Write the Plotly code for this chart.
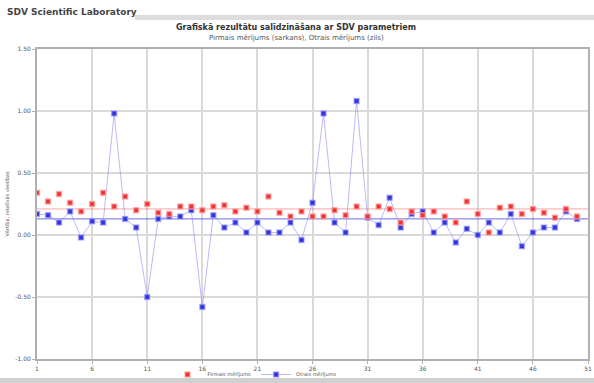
import plotly.graph_objects as go

# Measurement index and the two measured series
x_idx = list(range(1, 51))
red_vals = [0.34, 0.27, 0.33, 0.26, 0.19, 0.25, 0.34, 0.23, 0.31, 0.20,
            0.25, 0.18, 0.17, 0.23, 0.23, 0.20, 0.23, 0.24, 0.19, 0.22,
            0.19, 0.31, 0.18, 0.15, 0.19, 0.15, 0.15, 0.20, 0.16, 0.23,
            0.15, 0.23, 0.21, 0.10, 0.19, 0.16, 0.19, 0.15, 0.10, 0.27,
            0.17, 0.02, 0.22, 0.23, 0.17, 0.21, 0.18, 0.14, 0.21, 0.15]
blue_vals = [0.17, 0.16, 0.10, 0.19, -0.02, 0.11, 0.10, 0.98, 0.13, 0.06,
             -0.50, 0.13, 0.15, 0.15, 0.20, -0.58, 0.16, 0.06, 0.10, 0.02,
             0.10, 0.02, 0.02, 0.10, -0.04, 0.26, 0.98, 0.10, 0.02, 1.08,
             0.14, 0.08, 0.30, 0.06, 0.17, 0.19, 0.02, 0.10, -0.06, 0.05,
             0.00, 0.10, 0.02, 0.17, -0.09, 0.02, 0.06, 0.06, 0.19, 0.13]
red_ref = 0.21
blue_ref = 0.13
x_ticks = [1, 6, 11, 16, 21, 26, 31, 36, 41, 46, 51]
y_ticks = [-1.0, -0.5, 0.0, 0.5, 1.0, 1.5]
y_tick_text = ["-1.00", "-0.50", "0.00", "0.50", "1.00", "1.50"]

RED = "#ee3333"
BLUE = "#3333dd"
FONT = "DejaVu Sans"

fig = go.Figure()

# Reference levels of both series
fig.add_trace(go.Scatter(x=[1, 51], y=[red_ref, red_ref], mode="lines",
                         line=dict(color="rgba(238,80,80,0.5)", width=1),
                         showlegend=False, hoverinfo="skip"))
fig.add_trace(go.Scatter(x=[1, 51], y=[blue_ref, blue_ref], mode="lines",
                         line=dict(color="rgba(60,60,230,0.75)", width=1),
                         showlegend=False, hoverinfo="skip"))

fig.add_trace(go.Scatter(
    x=x_idx, y=blue_vals, mode="lines+markers", name="Otrais mērījums",
    line=dict(color="rgba(120,120,240,0.5)", width=1),
    marker=dict(symbol="square", size=5, color=BLUE,
                line=dict(color="rgba(150,150,255,0.6)", width=1.5)),
))
fig.add_trace(go.Scatter(
    x=x_idx, y=red_vals, mode="markers", name="Pirmais mērījums",
    marker=dict(symbol="square", size=5, color=RED,
                line=dict(color="rgba(255,160,160,0.7)", width=1.5)),
))

grid = "#dadada"
fig.update_xaxes(range=[1, 51], tickmode="array", tickvals=x_ticks,
                 showgrid=True, gridcolor=grid, gridwidth=2,
                 showline=True, linecolor="#b0b0b0", linewidth=2, mirror=True,
                 ticks="outside", ticklen=3, tickcolor="#b0b0b0",
                 tickfont=dict(size=6, color="#555555", family=FONT),
                 zeroline=False)
fig.update_yaxes(range=[-1.0, 1.5], tickmode="array", tickvals=y_ticks,
                 ticktext=y_tick_text,
                 showgrid=True, gridcolor=grid, gridwidth=2,
                 showline=True, linecolor="#b0b0b0", linewidth=2, mirror=True,
                 ticks="outside", ticklen=3, tickcolor="#b0b0b0",
                 tickfont=dict(size=6, color="#555555", family=FONT),
                 zeroline=False,
                 title=dict(text="Vērtība, relatīvās vienības",
                            font=dict(size=5, color="#555555", family=FONT),
                            standoff=6))

# Header and footer bands
fig.add_shape(type="rect", xref="paper", yref="paper",
              x0=(135 - 37) / 551, x1=(594 - 37) / 551,
              y0=(359 - 20) / 310, y1=(359 - 15) / 310,
              fillcolor="#dddddd", line_width=0, layer="below")
fig.add_shape(type="rect", xref="paper", yref="paper",
              x0=-37 / 551, x1=(594 - 37) / 551,
              y0=(359 - 383) / 310, y1=(359 - 378) / 310,
              fillcolor="#d0d0d0", line_width=0, layer="below")

fig.add_annotation(text="<b>SDV Scientific Laboratory</b>", xref="paper", yref="paper",
                   x=-32 / 551, y=(359 - 12) / 310, xanchor="left", yanchor="middle",
                   showarrow=False, font=dict(size=9, color="#444444", family=FONT))
fig.add_annotation(text="<b>Grafiskā rezultātu salīdzināšana ar SDV parametriem</b>",
                   xref="paper", yref="paper",
                   x=(296 - 37) / 551, y=(359 - 27) / 310, xanchor="center", yanchor="middle",
                   showarrow=False, font=dict(size=8, color="#333333", family=FONT))
fig.add_annotation(text="Pirmais mērījums (sarkans), Otrais mērījums (zils)",
                   xref="paper", yref="paper",
                   x=(296 - 37) / 551, y=(359 - 38) / 310, xanchor="center", yanchor="middle",
                   showarrow=False, font=dict(size=7, color="#555555", family=FONT))

fig.update_layout(
    width=594, height=383,
    margin=dict(l=37, r=6, t=49, b=24, autoexpand=False),
    paper_bgcolor="white", plot_bgcolor="white",
    legend=dict(orientation="h", x=(255 - 37) / 551, xanchor="center",
                y=(359 - 360) / 310, yanchor="top",
                traceorder="reversed", tracegroupgap=0,
                font=dict(size=5, color="#555555", family=FONT),
                bgcolor="rgba(0,0,0,0)", itemwidth=30),
    showlegend=True,
)

fig.write_html("out.html")
